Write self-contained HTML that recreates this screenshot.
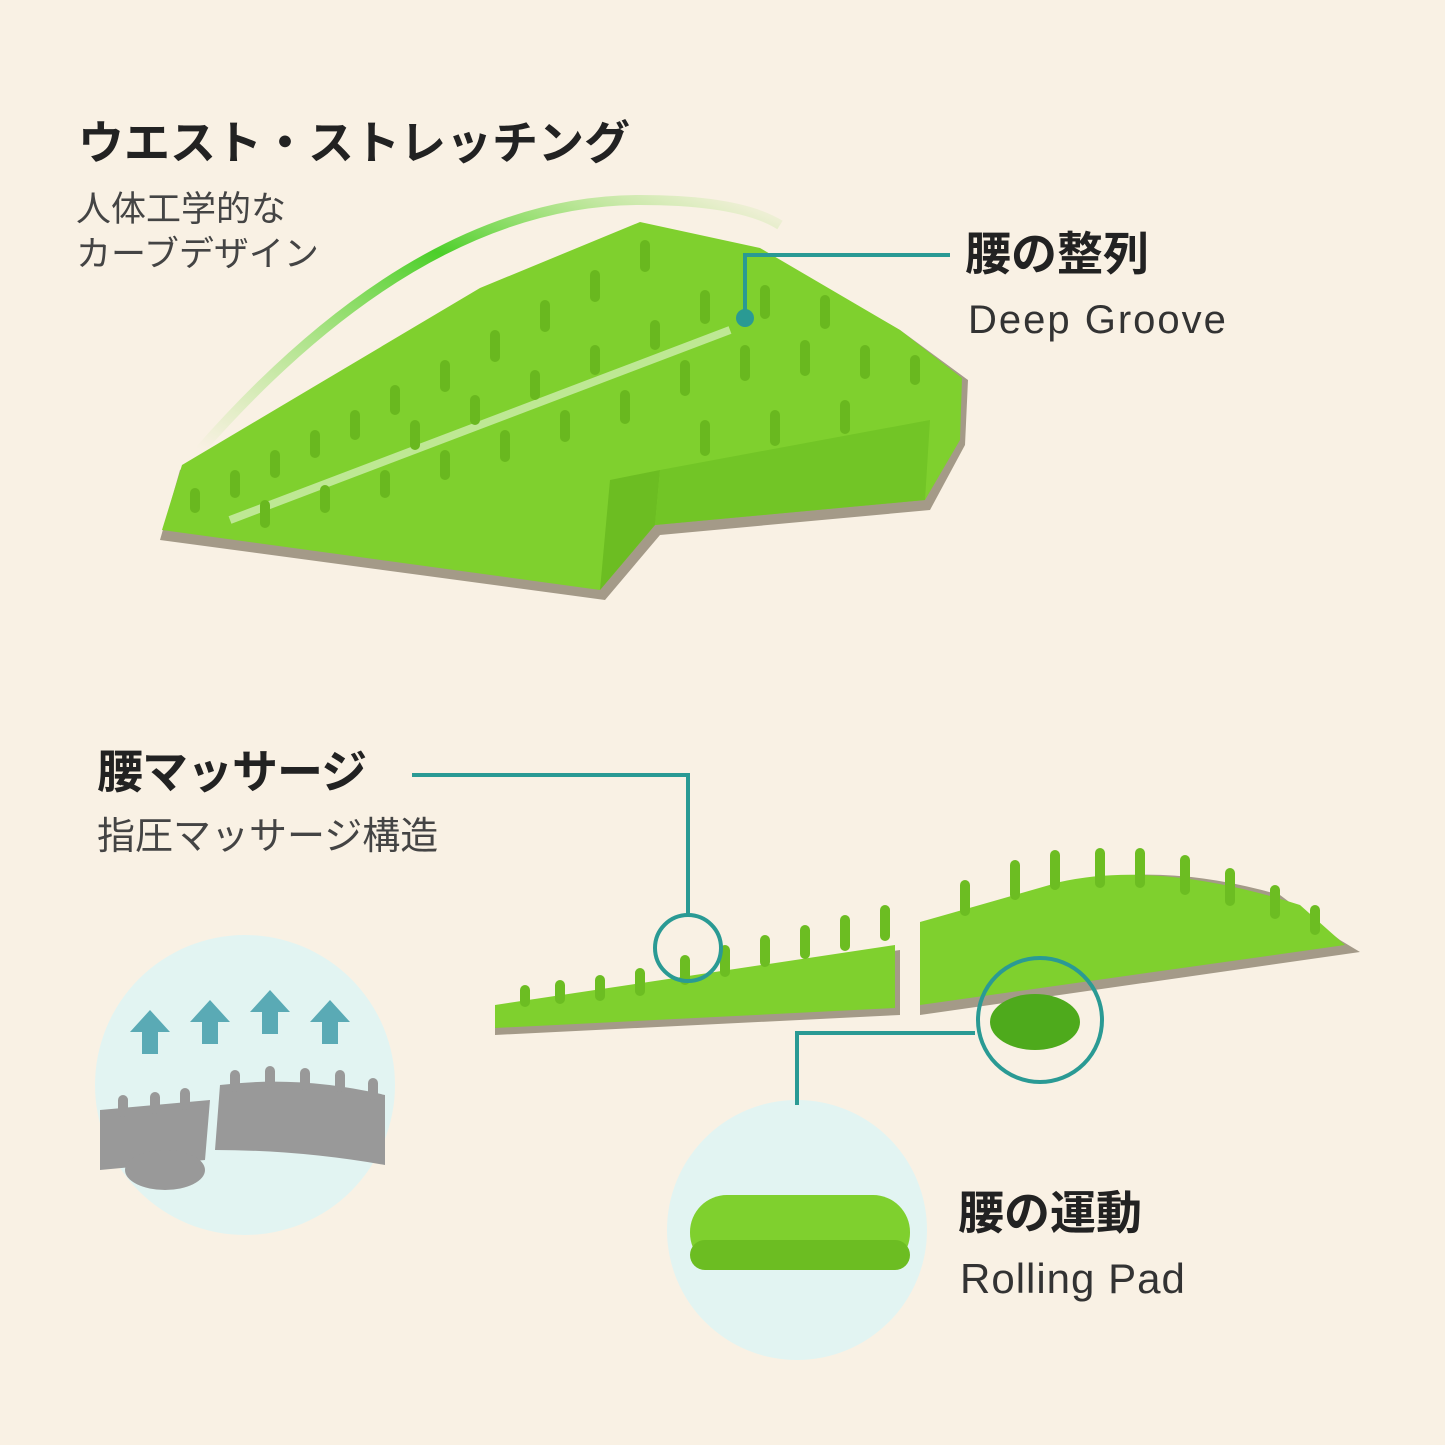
<!DOCTYPE html>
<html><head><meta charset="utf-8"><style>
html,body{margin:0;padding:0;background:#f9f1e4;}
#c{position:relative;width:1445px;height:1445px;overflow:hidden;background:#f9f1e4;font-family:"Liberation Sans","Noto Sans CJK JP",sans-serif;}
.t{position:absolute;white-space:nowrap;color:#222;line-height:1.2;}
.b{font-weight:bold;font-size:46px;}
.s{font-size:35px;color:#444;}
.e{font-size:40px;color:#333;letter-spacing:2px;}
</style></head><body><div id="c">
<svg width="1445" height="1445" style="position:absolute;left:0;top:0">
<defs>
<linearGradient id="sw" x1="0" y1="1" x2="1" y2="0"><stop offset="0" stop-color="#8be04a" stop-opacity="0"/><stop offset="0.6" stop-color="#4ccf2a"/><stop offset="1" stop-color="#8be04a" stop-opacity="0"/></linearGradient>
</defs>
<circle cx="245" cy="1085" r="150" fill="#e2f4f2"/>
<circle cx="797" cy="1230" r="130" fill="#e2f4f2"/>
<path d="M200 450 Q420 200 640 200 Q740 200 780 225" stroke="url(#sw)" stroke-width="10" fill="none"/>
<path d="M160 540 L605 600 L660 535 L930 510 L965 445 L968 380 L900 330 L760 250 L640 225 L480 290 L180 470 Z" fill="#a49a88"/>
<path d="M162 530 L600 590 L655 525 L925 500 L960 440 L962 378 L900 330 L760 248 L640 222 L480 288 L182 465 Z" fill="#7fd02e"/>
<path d="M600 590 L655 525 L660 470 L610 480 Z" fill="#6cbd22"/>
<path d="M660 470 L930 420 L925 500 L655 525 Z" fill="#72c526"/>
<path d="M230 520 L730 330" stroke="#d9f3c0" stroke-width="8" opacity="0.7"/>
<g fill="#69b81f">
<rect x="190" y="488" width="10" height="25" rx="5"/><rect x="230" y="470" width="10" height="28" rx="5"/><rect x="270" y="450" width="10" height="28" rx="5"/><rect x="310" y="430" width="10" height="28" rx="5"/><rect x="350" y="410" width="10" height="30" rx="5"/><rect x="390" y="385" width="10" height="30" rx="5"/><rect x="440" y="360" width="10" height="32" rx="5"/><rect x="490" y="330" width="10" height="32" rx="5"/><rect x="540" y="300" width="10" height="32" rx="5"/><rect x="590" y="270" width="10" height="32" rx="5"/><rect x="640" y="240" width="10" height="32" rx="5"/>
<rect x="260" y="500" width="10" height="28" rx="5"/><rect x="320" y="485" width="10" height="28" rx="5"/><rect x="380" y="470" width="10" height="28" rx="5"/><rect x="440" y="450" width="10" height="30" rx="5"/><rect x="500" y="430" width="10" height="32" rx="5"/><rect x="560" y="410" width="10" height="32" rx="5"/><rect x="620" y="390" width="10" height="34" rx="5"/><rect x="680" y="360" width="10" height="36" rx="5"/><rect x="740" y="345" width="10" height="36" rx="5"/><rect x="800" y="340" width="10" height="36" rx="5"/><rect x="860" y="345" width="10" height="34" rx="5"/><rect x="910" y="355" width="10" height="30" rx="5"/>
<rect x="700" y="290" width="10" height="34" rx="5"/><rect x="760" y="285" width="10" height="34" rx="5"/><rect x="820" y="295" width="10" height="34" rx="5"/><rect x="700" y="420" width="10" height="36" rx="5"/><rect x="770" y="410" width="10" height="36" rx="5"/><rect x="840" y="400" width="10" height="34" rx="5"/>
<rect x="410" y="420" width="10" height="30" rx="5"/><rect x="470" y="395" width="10" height="30" rx="5"/><rect x="530" y="370" width="10" height="30" rx="5"/><rect x="590" y="345" width="10" height="30" rx="5"/><rect x="650" y="320" width="10" height="30" rx="5"/>
</g>
<path d="M495 1035 L900 1015 L900 950 L495 1010 Z" fill="#a49a88"/>
<path d="M495 1028 L895 1008 L895 945 L495 1005 Z" fill="#7fd02e"/>
<path d="M920 1015 L1360 952 L1340 940 L1280 895 Q1160 860 1060 885 Q980 910 920 925 Z" fill="#a49a88"/>
<path d="M920 1005 L1345 945 L1300 905 Q1160 860 1060 882 Q980 905 920 922 Z" fill="#7fd02e"/>
<g fill="#6cbd22">
<rect x="520" y="985" width="10" height="22" rx="5"/><rect x="555" y="980" width="10" height="24" rx="5"/><rect x="595" y="975" width="10" height="26" rx="5"/><rect x="635" y="968" width="10" height="28" rx="5"/><rect x="680" y="955" width="10" height="30" rx="5"/><rect x="720" y="945" width="10" height="32" rx="5"/><rect x="760" y="935" width="10" height="32" rx="5"/><rect x="800" y="925" width="10" height="34" rx="5"/><rect x="840" y="915" width="10" height="36" rx="5"/><rect x="880" y="905" width="10" height="36" rx="5"/>
<rect x="960" y="880" width="10" height="36" rx="5"/><rect x="1010" y="860" width="10" height="40" rx="5"/><rect x="1050" y="850" width="10" height="40" rx="5"/><rect x="1095" y="848" width="10" height="40" rx="5"/><rect x="1135" y="848" width="10" height="40" rx="5"/><rect x="1180" y="855" width="10" height="40" rx="5"/><rect x="1225" y="868" width="10" height="38" rx="5"/><rect x="1270" y="885" width="10" height="34" rx="5"/><rect x="1310" y="905" width="10" height="30" rx="5"/>
</g>
<ellipse cx="1035" cy="1022" rx="45" ry="28" fill="#4eaa1c"/>
<g fill="#999">
<path d="M100 1110 L210 1100 L205 1160 L100 1170 Z"/><path d="M220 1085 Q300 1075 385 1095 L385 1165 Q300 1150 215 1150 Z"/>
<ellipse cx="165" cy="1170" rx="40" ry="20"/>
<rect x="118" y="1095" width="10" height="22" rx="5"/><rect x="150" y="1092" width="10" height="22" rx="5"/><rect x="180" y="1088" width="10" height="22" rx="5"/><rect x="230" y="1070" width="10" height="22" rx="5"/><rect x="265" y="1066" width="10" height="22" rx="5"/><rect x="300" y="1068" width="10" height="22" rx="5"/><rect x="335" y="1070" width="10" height="22" rx="5"/><rect x="368" y="1078" width="10" height="22" rx="5"/>
</g>
<g fill="#5aaab5">
<path d="M150 1010 l-20 22 h12 v22 h16 v-22 h12 Z"/><path d="M210 1000 l-20 22 h12 v22 h16 v-22 h12 Z"/><path d="M270 990 l-20 22 h12 v22 h16 v-22 h12 Z"/><path d="M330 1000 l-20 22 h12 v22 h16 v-22 h12 Z"/>
</g>
<rect x="690" y="1195" width="220" height="75" rx="37" fill="#7fd02e"/>
<rect x="690" y="1240" width="220" height="30" rx="15" fill="#6cbd22"/>
<g stroke="#2a9a94" stroke-width="4" fill="none">
<path d="M745 318 L745 255 L950 255"/>
<path d="M412 775 L688 775 L688 915"/>
<circle cx="688" cy="948" r="33"/>
<circle cx="1040" cy="1020" r="62"/>
<path d="M975 1033 L797 1033 L797 1105"/>
</g>
<circle cx="745" cy="318" r="9" fill="#2a9a94"/>
</svg>
<div class="t b" style="left:78px;top:116px">ウエスト・ストレッチング</div>
<div class="t s" style="left:76px;top:189px">人体工学的な</div>
<div class="t s" style="left:76px;top:234px">カーブデザイン</div>
<div class="t b" style="left:965px;top:227px">腰の整列</div>
<div class="t e" style="left:968px;top:296px">Deep Groove</div>
<div class="t b" style="left:97px;top:745px;letter-spacing:-1px">腰マッサージ</div>
<div class="t" style="left:97px;top:815px;font-size:38px;color:#444">指圧マッサージ構造</div>
<div class="t b" style="left:958px;top:1186px">腰の運動</div>
<div class="t e" style="left:960px;top:1254px;font-size:42px;letter-spacing:1px">Rolling Pad</div>
</div></body></html>
